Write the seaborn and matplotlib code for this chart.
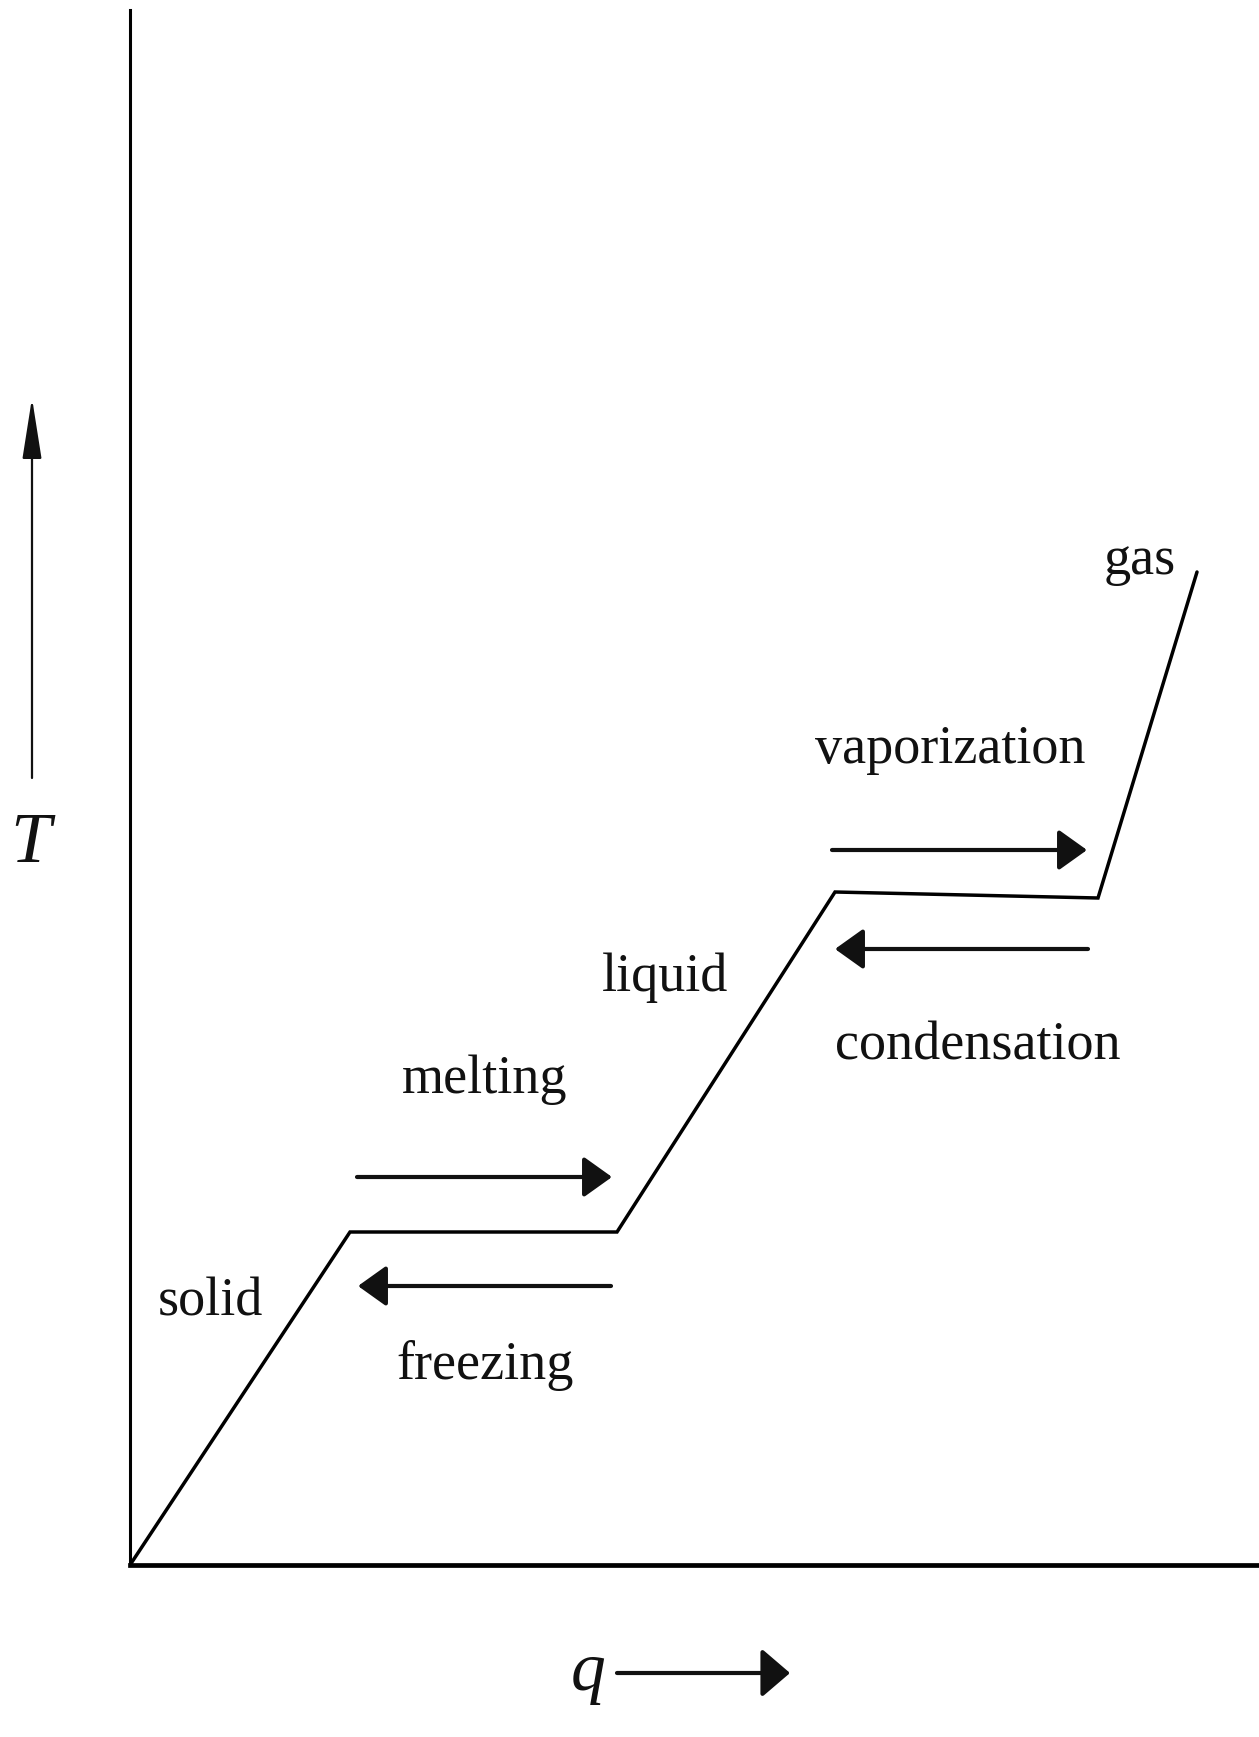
import matplotlib
matplotlib.use("Agg")
import matplotlib.pyplot as plt
import pandas as pd
import seaborn as sns

# Heating curve: heat added (q) against temperature (T), arbitrary units
q_values = [0.0, 2.20, 4.87, 7.05, 9.68, 10.67]
t_values = [0.0, 3.33, 3.33, 6.73, 6.67, 9.93]

# Phase / transition labels: text, q position, T baseline
label_text = ["solid", "melting", "freezing", "liquid", "vaporization", "condensation", "gas"]
label_q = [0.80, 3.55, 3.55, 5.35, 8.20, 8.48, 10.10]
label_t = [2.50, 4.72, 1.86, 5.74, 8.02, 5.06, 9.91]

# Direction arrows beside the two plateaus: (q_start, q_end, T)
arrow_q_start = [2.27, 4.81, 7.02, 9.58]
arrow_q_end = [4.82, 2.28, 9.57, 7.05]
arrow_t = [3.88, 2.79, 7.15, 6.16]

curve = pd.DataFrame({"q": q_values, "T": t_values})

sns.set_theme(style="white")
plt.rcParams["font.family"] = ["Liberation Serif", "DejaVu Serif"]

W, H = 1259, 1737
fig = plt.figure(figsize=(W / 100, H / 100), dpi=100)
fig.patch.set_facecolor("white")
ax = fig.add_axes([130 / W, 1 - 1565 / H, 1 - 130 / W, (1565 - 10) / H])

sns.lineplot(data=curve, x="q", y="T", sort=False, color="black",
             linewidth=2.5, ax=ax, solid_joinstyle="miter")

ax.set_xlim(0, 11.29)
ax.set_ylim(0, 15.55)
ax.set_xticks([])
ax.set_yticks([])
ax.set_xlabel("")
ax.set_ylabel("")
for side in ("top", "right"):
    ax.spines[side].set_visible(False)
ax.spines["left"].set_color("black")
ax.spines["left"].set_linewidth(2.2)
ax.spines["bottom"].set_color("black")
ax.spines["bottom"].set_linewidth(3.4)

for txt, xq, yt in zip(label_text, label_q, label_t):
    ax.text(xq, yt, txt, ha="center", va="baseline", fontsize=39,
            color="#111111")

for x0, x1, yt in zip(arrow_q_start, arrow_q_end, arrow_t):
    ax.annotate("", xy=(x1, yt), xytext=(x0, yt),
                arrowprops=dict(arrowstyle="-|>,head_length=0.7,head_width=0.5",
                                mutation_scale=25, color="#111111", lw=3.0,
                                shrinkA=0, shrinkB=0))

# Axis direction arrows and symbols outside the plot area
fig.patches.append(matplotlib.patches.FancyArrowPatch(
    (32 / W, 1 - 778 / H), (32 / W, 1 - 398 / H), transform=fig.transFigure,
    arrowstyle="-|>,head_length=1.9,head_width=0.3", mutation_scale=20,
    color="#111111", lw=1.6, shrinkA=0, shrinkB=0))
fig.text(30 / W, 1 - 845 / H, "T", ha="center", va="center", fontsize=52,
         style="italic", color="#111111")

fig.patches.append(matplotlib.patches.FancyArrowPatch(
    (617 / W, 1 - 1673 / H), (790 / W, 1 - 1673 / H), transform=fig.transFigure,
    arrowstyle="-|>,head_length=0.7,head_width=0.6", mutation_scale=25,
    color="#111111", lw=3.0, shrinkA=0, shrinkB=0))
fig.text(588 / W, 1 - 1690 / H, "q", ha="center", va="baseline", fontsize=50,
         style="italic", color="#111111")

fig.savefig("out.png", dpi=100, facecolor="white")
